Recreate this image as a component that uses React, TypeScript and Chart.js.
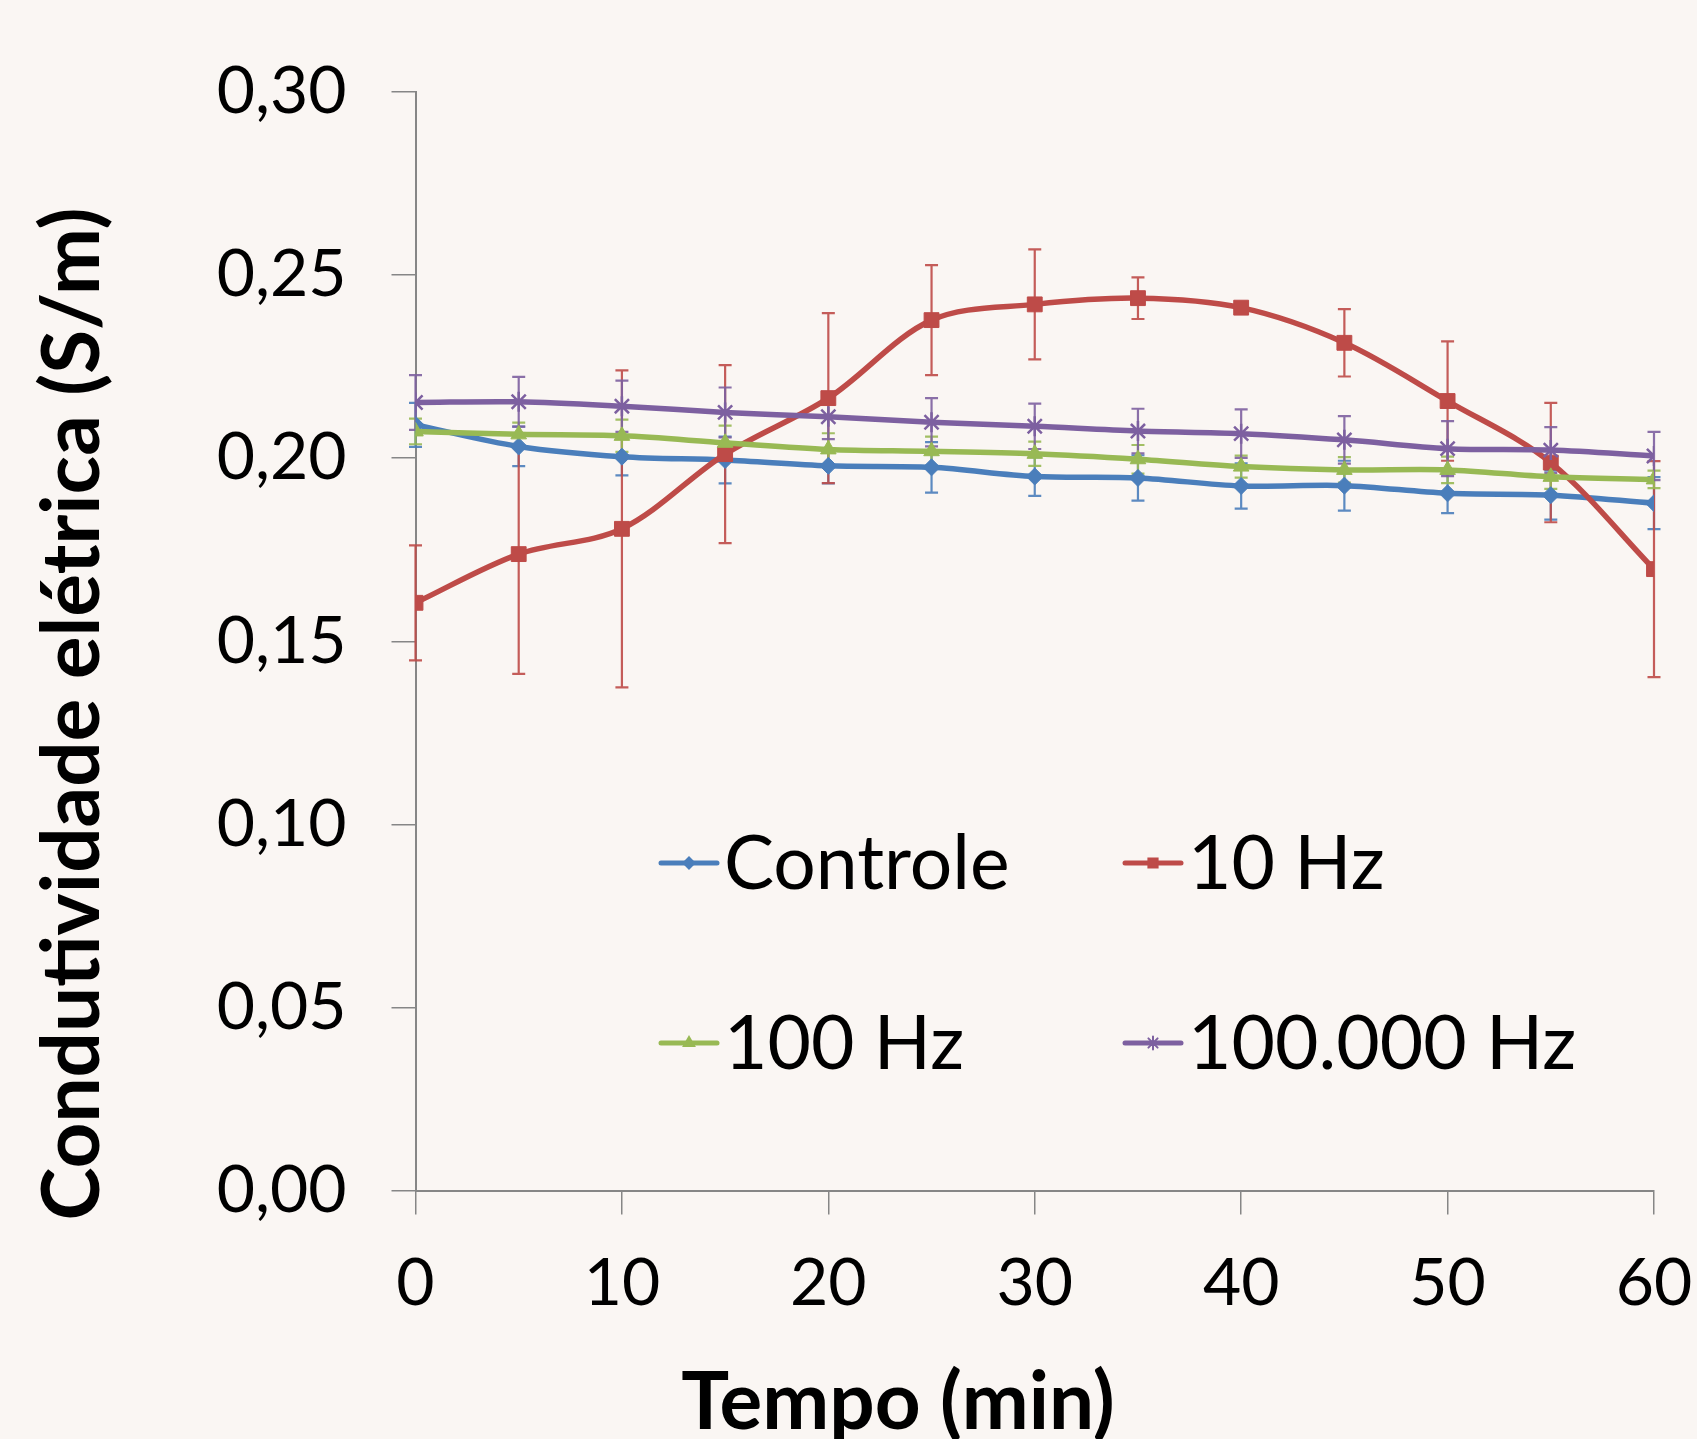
import { useEffect, useRef } from "react";
import { Chart, registerables } from "chart.js";
import { drawPoint } from "chart.js/helpers";

Chart.register(...registerables);

const BG = "#FAF6F3";

const times = [0, 5, 10, 15, 20, 25, 30, 35, 40, 45, 50, 55, 60];
const seriesNames = ["Controle", "10 Hz", "100 Hz", "100.000 Hz"];

const controle = [0.2091, 0.2032, 0.2004, 0.1995, 0.1979, 0.1975, 0.195, 0.1946, 0.1924, 0.1925, 0.1904, 0.1899, 0.1877];
const controleErr = [0.006, 0.0054, 0.0051, 0.0064, 0.0048, 0.0069, 0.0053, 0.0062, 0.0062, 0.0068, 0.0054, 0.0067, 0.0071];

const hz10 = [0.1605, 0.1738, 0.1807, 0.2011, 0.2164, 0.2377, 0.242, 0.2437, 0.2411, 0.2315, 0.2156, 0.1988, 0.1697];
const hz10Err = [0.0157, 0.0327, 0.0433, 0.0243, 0.0232, 0.015, 0.015, 0.0057, 0.001, 0.0092, 0.0163, 0.0163, 0.0295];

const hz100 = [0.2073, 0.2065, 0.2061, 0.2042, 0.2024, 0.2019, 0.2012, 0.1997, 0.1977, 0.1968, 0.1968, 0.1949, 0.1942];
const hz100Err = [0.0035, 0.0032, 0.0044, 0.0047, 0.0044, 0.004, 0.0033, 0.0039, 0.003, 0.0035, 0.0036, 0.0033, 0.0024];

const hz100k = [0.2152, 0.2154, 0.2142, 0.2125, 0.2113, 0.2098, 0.2087, 0.2074, 0.2067, 0.205, 0.2026, 0.2022, 0.2006];
const hz100kErr = [0.0075, 0.0068, 0.007, 0.0068, 0.0061, 0.0066, 0.0062, 0.0061, 0.0066, 0.0065, 0.0075, 0.0063, 0.0066];

const xTickLabels = ["0", "10", "20", "30", "40", "50", "60"];
const yTickLabels = ["0,00", "0,05", "0,10", "0,15", "0,20", "0,25", "0,30"];

const xTitle = "Tempo (min)";
const yTitle = "Condutividade elétrica (S/m)";

const colors = ["#4A7EBB", "#BE4B48", "#98B954", "#7D60A0"];
const pointStyles = ["rectRot", "rect", "triangle", "star"];
const pointRadii = [8.5, 10.5, 9, 10];
const legendRadii = [5.5, 6.5, 6, 6.5];

const values = [controle, hz10, hz100, hz100k];
const errors = [controleErr, hz10Err, hz100Err, hz100kErr];

const FONT = "Lato, 'Open Sans', sans-serif";

const backgroundPlugin = {
  id: "bgFill",
  beforeDraw(chart: any) {
    const ctx = chart.ctx;
    ctx.save();
    ctx.fillStyle = BG;
    ctx.fillRect(0, 0, chart.width, chart.height);
    ctx.restore();
  },
};

const errorBarPlugin = {
  id: "errorBars",
  beforeDatasetsDraw(chart: any) {
    const ctx = chart.ctx;
    const xs = chart.scales.x;
    const ys = chart.scales.y;
    chart.data.datasets.forEach((ds: any, i: number) => {
      const errs = errors[i];
      ctx.save();
      ctx.strokeStyle = ds.borderColor;
      ctx.globalAlpha = 0.9;
      ctx.lineWidth = 2.2;
      ds.data.forEach((p: any, j: number) => {
        const px = xs.getPixelForValue(p.x);
        const top = ys.getPixelForValue(p.y + errs[j]);
        const bot = ys.getPixelForValue(p.y - errs[j]);
        const cap = 6.5;
        ctx.beginPath();
        ctx.moveTo(px, top);
        ctx.lineTo(px, bot);
        ctx.moveTo(px - cap, top);
        ctx.lineTo(px + cap, top);
        ctx.moveTo(px - cap, bot);
        ctx.lineTo(px + cap, bot);
        ctx.stroke();
      });
      ctx.restore();
    });
  },
};

const titlesAndLegendPlugin = {
  id: "titlesLegend",
  afterDraw(chart: any) {
    const ctx = chart.ctx;
    ctx.save();
    ctx.fillStyle = "#000";
    // y title
    ctx.save();
    ctx.translate(99, 714);
    ctx.rotate(-Math.PI / 2);
    ctx.font = `bold 80px ${FONT}`;
    ctx.textAlign = "center";
    ctx.textBaseline = "alphabetic";
    ctx.fillText(yTitle, 0, 0);
    ctx.restore();
    // x title
    ctx.font = `bold 80px ${FONT}`;
    ctx.textAlign = "center";
    ctx.textBaseline = "alphabetic";
    ctx.fillText(xTitle, 898, 1429);

    // legend
    const cols = [661, 1125];
    const rows = [863, 1043];
    ctx.font = `75px ${FONT}`;
    ctx.textAlign = "left";
    chart.data.datasets.forEach((ds: any, i: number) => {
      const lx = cols[i % 2];
      const ly = rows[Math.floor(i / 2)];
      ctx.save();
      ctx.strokeStyle = ds.borderColor;
      ctx.lineWidth = 5;
      ctx.lineCap = "round";
      ctx.beginPath();
      ctx.moveTo(lx, ly);
      ctx.lineTo(lx + 56, ly);
      ctx.stroke();
      ctx.fillStyle = ds.borderColor;
      ctx.lineWidth = 2;
      drawPoint(ctx, { pointStyle: ds.pointStyle, radius: legendRadii[i], rotation: 0, borderWidth: 2 }, lx + 28, ly);
      ctx.restore();
      ctx.textBaseline = "alphabetic";
      ctx.fillText(ds.label, lx + 63, ly + 26);
    });
    ctx.restore();
  },
};

export default function App() {
  const ref = useRef<HTMLCanvasElement>(null);
  useEffect(() => {
    document.body.style.margin = "0";
    document.body.style.background = BG;
    const datasets = values.map((vals, i) => ({
      label: seriesNames[i],
      data: vals.map((v, j) => ({ x: times[j], y: v })),
      borderColor: colors[i],
      backgroundColor: colors[i],
      pointBackgroundColor: colors[i],
      pointBorderColor: colors[i],
      pointStyle: pointStyles[i],
      pointRadius: pointRadii[i],
      pointBorderWidth: i === 3 ? 2.5 : 1,
      borderWidth: 5.5,
      tension: 0.33,
      fill: false,
      order: 4 - i,
    }));
    const chart = new Chart(ref.current as HTMLCanvasElement, {
      type: "line",
      data: { datasets },
      plugins: [backgroundPlugin, errorBarPlugin, titlesAndLegendPlugin],
      options: {
        animation: false,
        responsive: false,
        devicePixelRatio: 1,
        layout: { padding: { top: 92, right: 43, left: 0, bottom: 0 } },
        plugins: { legend: { display: false }, tooltip: { enabled: false } },
        scales: {
          x: {
            type: "linear",
            min: 0,
            max: 60,
            ticks: {
              stepSize: 10,
              autoSkip: false,
              maxRotation: 0,
              padding: 30,
              color: "#000",
              font: { family: FONT, size: 66 },
              callback: (_v: any, i: number) => xTickLabels[i],
            },
            grid: { drawOnChartArea: false, tickLength: 24, color: "#868686", lineWidth: 1.5 },
            border: { color: "#868686", width: 2 },
            afterFit: (s: any) => {
              s.height = 248.5;
              s.paddingLeft = 0;
              s.paddingRight = 0;
            },
          },
          y: {
            type: "linear",
            min: 0,
            max: 0.3,
            ticks: {
              stepSize: 0.05,
              padding: 45,
              color: "#000",
              font: { family: FONT, size: 66 },
              callback: (_v: any, i: number) => yTickLabels[i],
            },
            grid: { drawOnChartArea: false, tickLength: 24, color: "#868686", lineWidth: 1.5 },
            border: { color: "#868686", width: 2 },
            afterFit: (s: any) => {
              s.width = 415.5;
              s.paddingTop = 0;
              s.paddingBottom = 0;
            },
          },
        },
      } as any,
    });
    return () => chart.destroy();
  }, []);
  return (
    <div style={{ width: 1697, height: 1439, position: "relative", overflow: "hidden" }}>
      <canvas ref={ref} width={1697} height={1439} style={{ display: "block", width: 1697, height: 1439 }} />
    </div>
  );
}
